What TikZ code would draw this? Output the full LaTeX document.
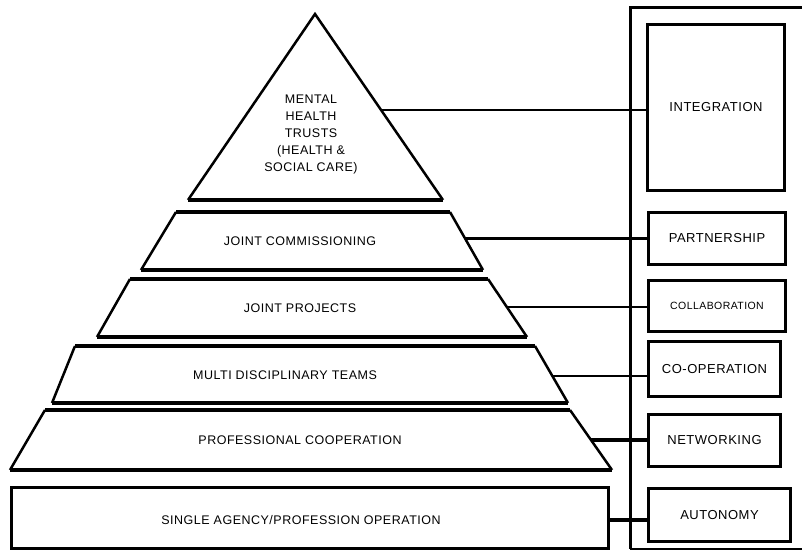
\documentclass[tikz,border=0pt]{standalone}
\usepackage{fontspec}
\newfontfamily\lblfont[LetterSpace=4]{Liberation Sans}
\usetikzlibrary{positioning, calc}

\tikzset{
  side/.style={line width=2.5pt, line join=miter},
  rim/.style={line width=4pt},
  lab/.style={font=\lblfont\fontsize{12.5}{17}\selectfont, align=center, inner sep=0pt},
  tagbox/.style={draw, line width=3pt, inner sep=2pt,
    font=\lblfont\fontsize{13}{15}\selectfont},
  link/.style={line width=#1},
  link/.default=1.5pt
}

\begin{document}
\begin{tikzpicture}[x=1pt, y=-1pt]
\useasboundingbox (0,0) rectangle (802,556);

% pyramid top
\coordinate (ap) at (315,14);
\coordinate (tri-l) at (188,200);
\coordinate (tri-r) at (443,200);
\draw[side] (tri-l) -- (ap) -- (tri-r);
\draw[rim] (tri-l) -- (tri-r);
\node[lab] (mht) at (311,134) {MENTAL\\HEALTH\\TRUSTS\\(HEALTH \&\\SOCIAL CARE)};
\coordinate (mht-r) at ($(ap)!0.516!(tri-r)$);

% joint commissioning
\draw[side] (141,270) -- (176,212) (450,212) -- (483,270);
\draw[rim] (176,212) -- (450,212) (141,270) -- (483,270);
\node[lab] (jc) at (300,241) {JOINT COMMISSIONING};
\coordinate (jc-r) at (465,238);

% joint projects
\draw[side] (97,337) -- (130,279) (488,279) -- (527,337);
\draw[rim] (130,279) -- (488,279) (97,337) -- (527,337);
\node[lab] (jp) at (300,308) {JOINT PROJECTS};
\coordinate (jp-r) at (507,307);

% multi disciplinary teams
\draw[side] (52,403) -- (75,346) (535,346) -- (568,403);
\draw[rim] (75,346) -- (535,346) (52,403) -- (568,403);
\node[lab] (mdt) at (285,375) {MULTI DISCIPLINARY TEAMS};
\coordinate (mdt-r) at (552,376);

% professional cooperation
\draw[side] (10,470) -- (45,410) (570,410) -- (612,470);
\draw[rim] (45,410) -- (570,410) (10,470) -- (612,470);
\node[lab] (pc) at (300,440) {PROFESSIONAL COOPERATION};
\coordinate (pc-r) at (591,440);

% base
\node[draw, line width=3pt, minimum width=597pt, minimum height=61pt] (sa) at (310,518) {};
\node[lab] (sat) at (301,520) {SINGLE AGENCY/PROFESSION OPERATION};

% right frame
\draw[line width=3pt] (802,8) -- (630,8) -- (630,549);
\draw[line width=1.5pt] (630,549) -- (802,549);

\node[tagbox, minimum width=137pt, minimum height=166pt] (integ) at (716,107.5) {INTEGRATION};
\node[tagbox, minimum width=137pt, minimum height=52pt] (partner) at (717,238) {PARTNERSHIP};
\node[tagbox, minimum width=137pt, minimum height=51pt, font=\lblfont\fontsize{10.5}{12}\selectfont] (collab) at (717,306) {COLLABORATION};
\node[tagbox, minimum width=132pt, minimum height=55pt] (coop) at (714.5,369) {CO-OPERATION};
\node[tagbox, minimum width=132pt, minimum height=52pt] (netw) at (714.5,440.5) {NETWORKING};
\node[tagbox, minimum width=142pt, minimum height=53pt] (auton) at (719.5,515) {AUTONOMY};

% connectors
\draw[link] (mht-r) -- (mht-r -| integ.west);
\draw[link=3pt] (jc-r) -- (jc-r -| partner.west);
\draw[link=2.5pt] (jp-r) -- (jp-r -| collab.west);
\draw[link] (mdt-r) -- (mdt-r -| coop.west);
\draw[link=3.5pt] (pc-r) -- (pc-r -| netw.west);
\draw[link=3.5pt] (sa.east |- 0,520) -- (auton.west |- 0,520);

\end{tikzpicture}
\end{document}
